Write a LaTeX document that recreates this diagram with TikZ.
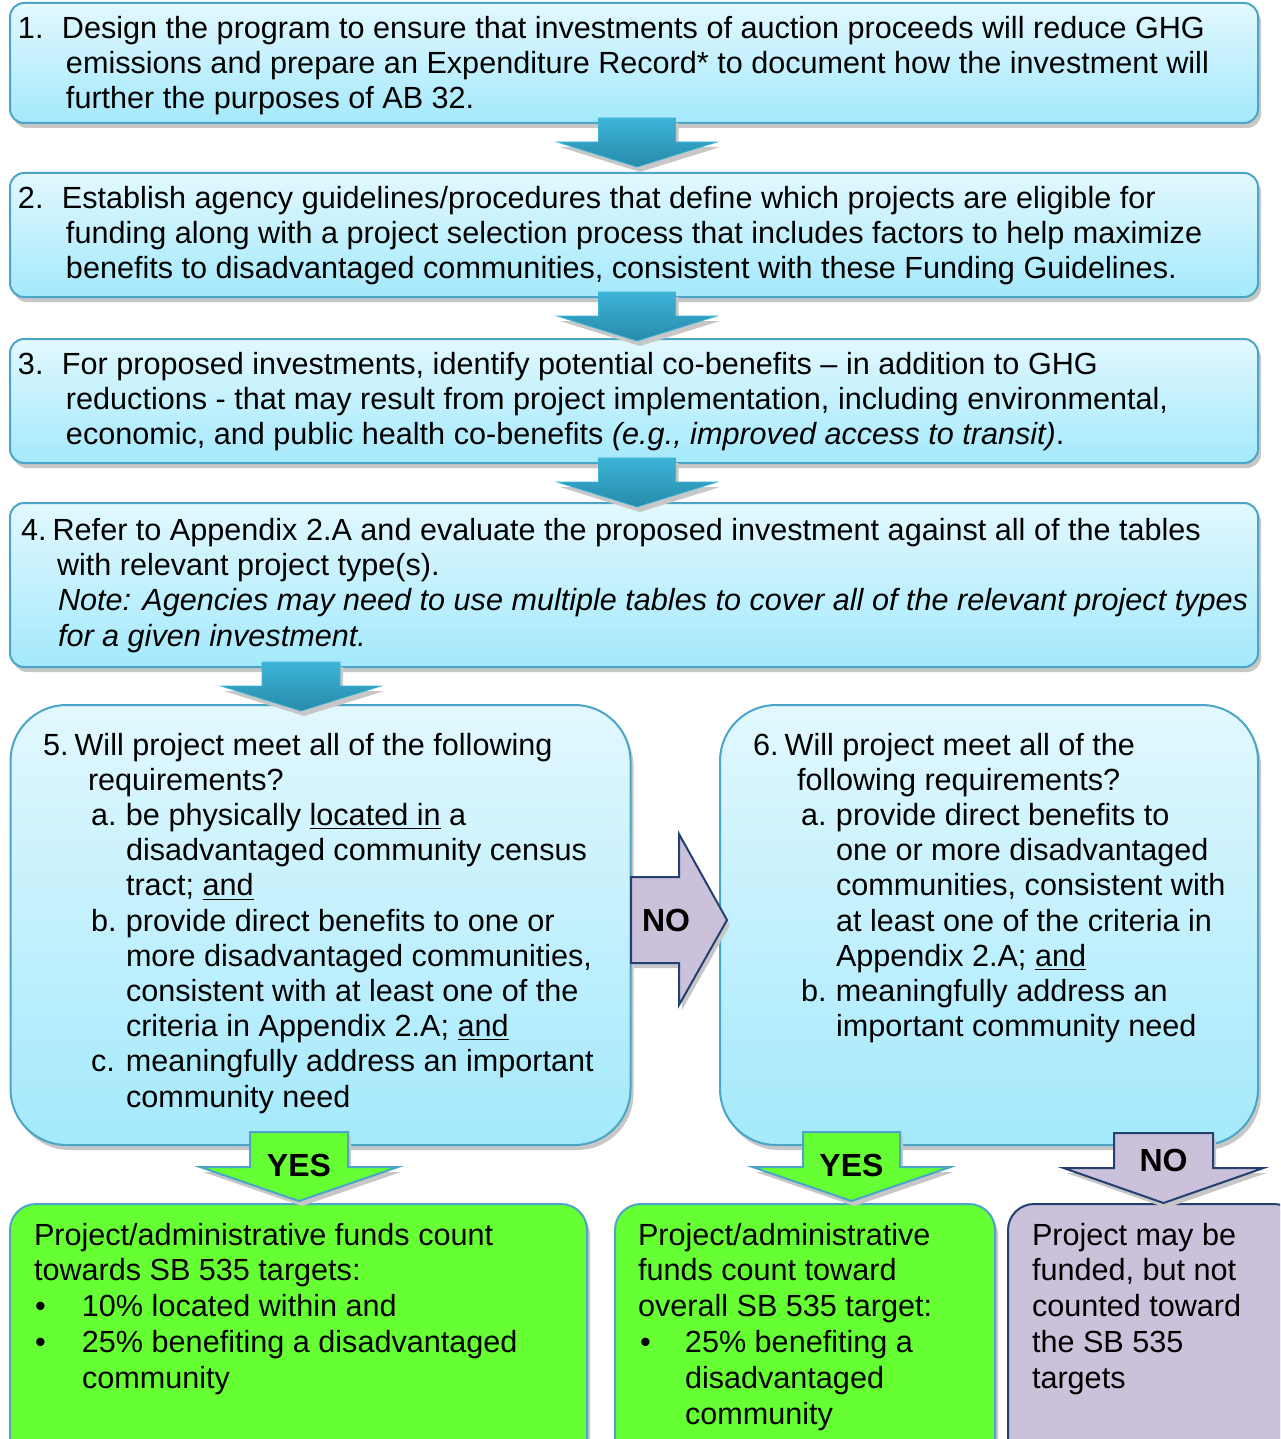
\documentclass[tikz,border=0pt]{standalone}
\usepackage{fontspec}
\setmainfont{Liberation Sans}
\usetikzlibrary{shadows}
\definecolor{boxtop}{RGB}{226,248,254}
\definecolor{boxbot}{RGB}{164,233,252}
\definecolor{boxline}{RGB}{75,165,198}
\definecolor{arrtop}{RGB}{60,180,216}
\definecolor{arrbot}{RGB}{40,138,170}
\definecolor{grn}{RGB}{102,255,51}
\definecolor{purp}{RGB}{204,193,218}
\definecolor{navy}{RGB}{36,64,112}
\newcommand\Ln[1]{\hbox{#1}}
\newcommand\blockdown[7]{%
  \path[#1] ({#2-#6},#3) -- ({#2+#6},#3) -- ({#2+#6},#4) -- ({#2+#7},#4) -- (#2,#5) -- ({#2-#7},#4) -- ({#2-#6},#4) -- cycle;}
\tikzset{
  shad/.style={drop shadow={shadow xshift=1.5pt,shadow yshift=-2.5pt,fill=black!22,opacity=1}},
  bluebox/.style={shape=rectangle,draw=boxline,line width=1pt,top color=boxtop,bottom color=boxbot,inner sep=0pt,shad},
  grnbox/.style={shape=rectangle,draw=boxline,line width=1pt,fill=grn,inner sep=0pt,shad},
  purbox/.style={shape=rectangle,draw=navy,line width=1pt,fill=purp,inner sep=0pt,shad},
  txt/.style={anchor=base west,inner sep=0pt,outer sep=0pt},
  btxt/.style={txt,font=\fontsize{15.3}{17.9}\selectfont},
  darrow/.style={top color=arrtop,bottom color=arrbot,draw=arrtop,line width=0.4pt,shad},
  garrow/.style={fill=grn,draw=boxline,line width=1pt,shad},
  parrow/.style={fill=purp,draw=navy,line width=1pt,shad},
  lab/.style={inner sep=0pt,font=\fontsize{16}{18}\selectfont\bfseries}
}
\begin{document}
\begin{tikzpicture}[x=0.5pt,y=-0.5pt,font=\fontsize{15.3}{17.6}\selectfont]
\useasboundingbox (0,0) rectangle (1280,1439);
\clip (0,0) rectangle (1280,1439);
% boxes
\node[bluebox,rounded corners=7pt,minimum width=624pt,minimum height=60pt] (b1) at (634,63) {};
\node[bluebox,rounded corners=7pt,minimum width=624pt,minimum height=62pt] (b2) at (634,235) {};
\node[bluebox,rounded corners=7pt,minimum width=624pt,minimum height=62pt] (b3) at (634,401) {};
\node[bluebox,rounded corners=7pt,minimum width=624pt,minimum height=82pt] (b4) at (634,585) {};
\node[bluebox,rounded corners=28pt,minimum width=310pt,minimum height=220pt] (b5) at (320.5,925) {};
\node[bluebox,rounded corners=28pt,minimum width=269pt,minimum height=220pt] (b6) at (989,925) {};
\node[grnbox,rounded corners=13pt,minimum width=288.5pt,minimum height=138pt] (ba) at (298.5,1342) {};
\node[grnbox,rounded corners=13pt,minimum width=190pt,minimum height=138pt] (bb) at (805,1342) {};
\node[purbox,rounded corners=13pt,minimum width=146pt,minimum height=138pt] (bc) at (1154,1342) {};
% arrows
\blockdown{darrow}{637}{118}{142}{167}{38.5}{80}
\blockdown{darrow}{637}{292}{316}{341}{38.5}{80}
\blockdown{darrow}{637}{458}{482}{507}{38.5}{80}
\blockdown{darrow}{301}{662}{686}{711}{39}{80}
\path[parrow] (631,877) -- (679,877) -- (679,834) -- (727,920) -- (679,1005) -- (679,963) -- (631,963) -- cycle;
\blockdown{garrow}{299}{1132}{1167}{1201}{49}{99}
\blockdown{garrow}{851.5}{1132}{1167}{1201}{48.5}{99}
\blockdown{parrow}{1163.5}{1133}{1168}{1203}{49.5}{100}
\node[lab] (no1) at (666,920) {NO};
\node[lab] (yes1) at (299,1165) {YES};
\node[lab] (yes2) at (851.5,1165) {YES};
\node[lab] (no2) at (1163.5,1160) {NO};
% texts
\node[txt] (t1) at (18,38.5) {\vtop{%
\Ln{\makebox[22pt][l]{1.}Design the program to ensure that investments of auction proceeds will reduce GHG}
\Ln{\hspace*{24pt}emissions and prepare an Expenditure Record* to document how the investment will}
\Ln{\hspace*{24pt}further the purposes of AB 32.}}};
\node[txt] (t2) at (18,208.5) {\vtop{%
\Ln{\makebox[22pt][l]{2.}Establish agency guidelines/procedures that define which projects are eligible for}
\Ln{\hspace*{24pt}funding along with a project selection process that includes factors to help maximize}
\Ln{\hspace*{24pt}benefits to disadvantaged communities, consistent with these Funding Guidelines.}}};
\node[txt] (t3) at (18,374.5) {\vtop{%
\Ln{\makebox[22pt][l]{3.}For proposed investments, identify potential co-benefits – in addition to GHG}
\Ln{\hspace*{24pt}reductions - that may result from project implementation, including environmental,}
\Ln{\hspace*{24pt}economic, and public health co-benefits \textit{(e.g., improved access to transit)}.}}};
\node[txt] (t4) at (21,540.5) {\vtop{%
\Ln{4.\hspace{0.2em}Refer to Appendix 2.A and evaluate the proposed investment against all of the tables}
\Ln{\hspace*{18pt}with relevant project type(s).}
\Ln{\hspace*{18.5pt}\textit{Note: Agencies may need to use multiple tables to cover all of the relevant project types}}
\Ln{\hspace*{18.5pt}\textit{for a given investment.}}}};
\node[txt] (t5) at (43,755) {\vtop{%
\Ln{5.\hspace{0.2em}Will project meet all of the following}
\Ln{\hspace*{22.5pt}requirements?}
\Ln{\hspace*{24pt}\makebox[17.5pt][l]{a.}be physically \underline{located in} a}
\Ln{\hspace*{41.5pt}disadvantaged community census}
\Ln{\hspace*{41.5pt}tract; \underline{and}}
\Ln{\hspace*{24pt}\makebox[17.5pt][l]{b.}provide direct benefits to one or}
\Ln{\hspace*{41.5pt}more disadvantaged communities,}
\Ln{\hspace*{41.5pt}consistent with at least one of the}
\Ln{\hspace*{41.5pt}criteria in Appendix 2.A; \underline{and}}
\Ln{\hspace*{24pt}\makebox[17.5pt][l]{c.}meaningfully address an important}
\Ln{\hspace*{41.5pt}community need}}};
\node[txt] (t6) at (753,755) {\vtop{%
\Ln{6.\hspace{0.2em}Will project meet all of the}
\Ln{\hspace*{22pt}following requirements?}
\Ln{\hspace*{24pt}\makebox[17.5pt][l]{a.}provide direct benefits to}
\Ln{\hspace*{41.5pt}one or more disadvantaged}
\Ln{\hspace*{41.5pt}communities, consistent with}
\Ln{\hspace*{41.5pt}at least one of the criteria in}
\Ln{\hspace*{41.5pt}Appendix 2.A; \underline{and}}
\Ln{\hspace*{24pt}\makebox[17.5pt][l]{b.}meaningfully address an}
\Ln{\hspace*{41.5pt}important community need}}};
\node[btxt] (ta) at (34,1245) {\vtop{%
\Ln{Project/administrative funds count}
\Ln{towards SB 535 targets:}
\Ln{\hspace*{0.5pt}\makebox[23.5pt][l]{•}10\% located within and}
\Ln{\hspace*{0.5pt}\makebox[23.5pt][l]{•}25\% benefiting a disadvantaged}
\Ln{\hspace*{24pt}community}}};
\node[btxt] (tb) at (638,1245) {\vtop{%
\Ln{Project/administrative}
\Ln{funds count toward}
\Ln{overall SB 535 target:}
\Ln{\hspace*{1pt}\makebox[22.5pt][l]{•}25\% benefiting a}
\Ln{\hspace*{23.5pt}disadvantaged}
\Ln{\hspace*{23.5pt}community}}};
\node[btxt] (tc) at (1032,1245) {\vtop{%
\Ln{Project may be}
\Ln{funded, but not}
\Ln{counted toward}
\Ln{the SB 535}
\Ln{targets}}};
\end{tikzpicture}
\end{document}
